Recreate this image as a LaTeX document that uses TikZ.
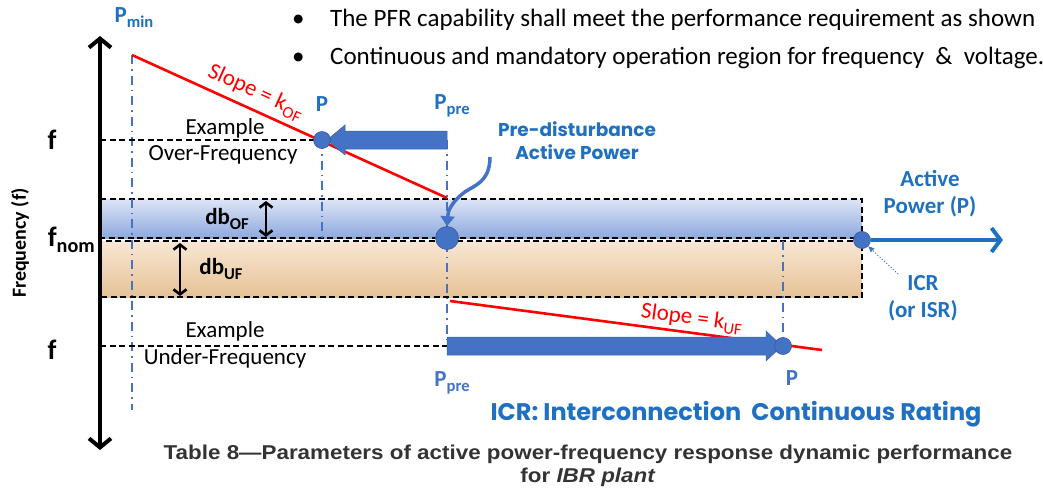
\documentclass[tikz,border=0pt]{standalone}
\usepackage{fontspec}
\setmainfont{Carlito}
\newfontfamily\capfont{Liberation Sans}
\newfontfamily\geofont{Poppins}
\usetikzlibrary{arrows.meta,calc}
\definecolor{lblue}{HTML}{1F70C1}
\definecolor{ablue}{HTML}{4472C4}
\definecolor{bandbt}{HTML}{DDE5F6}
\definecolor{bandbb}{HTML}{8EA9DE}
\definecolor{bandot}{HTML}{F8E7D4}
\definecolor{bandob}{HTML}{E6C296}
\definecolor{slred}{HTML}{FF0000}
\definecolor{capgray}{HTML}{333333}
\newcommand\dn[1]{\raisebox{-0.45ex}{\scalebox{0.72}{#1}}}
\tikzset{
  lbl/.style={font=\fontsize{23}{25}\selectfont\bfseries, text=lblue, inner sep=0pt},
  plain/.style={font=\fontsize{23}{26}\selectfont, text=black, inner sep=0pt},
  dashdot/.style={draw=ablue, line width=2pt, dash pattern=on 9pt off 5pt on 1.5pt off 5pt},
  blackdash/.style={draw=black, line width=2.4pt, dash pattern=on 6pt off 3.5pt},
  dot/.style={circle, fill=ablue, draw=ablue!80!black, line width=0.6pt, inner sep=0pt},
  redline/.style={draw=slred, line width=2.6pt},
  blockarrow/.style={fill=ablue, draw=ablue!85!black, line width=0.5pt},
}
\begin{document}
\begin{tikzpicture}[x=1pt,y=-1pt]
\useasboundingbox (0,0) rectangle (1043,495);
% bands
\shade[top color=bandbt, bottom color=bandbb] (100,199) rectangle (862,238);
\shade[top color=bandot, bottom color=bandob] (100,241) rectangle (862,297);
\draw[blackdash] (100,199) rectangle (862,238);
\draw[blackdash] (100,241) rectangle (862,297);
% axis
\coordinate (axb) at (100,450);
\coordinate (axt) at (100,36);
\draw[line width=4pt, {Straight Barb[length=9pt,width=22pt]}-{Straight Barb[length=9pt,width=22pt]}] (axb) -- (axt);
\node[font=\fontsize{20}{22}\selectfont\bfseries, rotate=90, inner sep=0pt] (freq) at (20,243) {Frequency (f)};
\node[font=\fontsize{28}{30}\selectfont\bfseries, inner sep=0pt] (fof) at (52,140) {f};
\node[font=\fontsize{28}{30}\selectfont\bfseries, inner sep=0pt, anchor=east] (fnom) at (95,240) {f\dn{nom}};
\node[font=\fontsize{28}{30}\selectfont\bfseries, inner sep=0pt] (fuf) at (52,350) {f};
% coordinates
\coordinate (pmintop) at (132,55);
\coordinate (pminbot) at (132,410);
\coordinate (ofend) at (447,198);
\coordinate (pof) at (322,140);
\coordinate (pofbot) at (322,240);
\coordinate (ppretop) at (447,140);
\coordinate (pprebot) at (447,346);
\coordinate (ppre) at (447,238);
\coordinate (ufstart) at (450,301);
\coordinate (ufend) at (822,350);
\coordinate (puf) at (783,346);
\coordinate (puftop) at (783,241);
\coordinate (fofl) at (100,140);
\coordinate (fufl) at (100,346);
% dash-dot verticals
\draw[dashdot] (pmintop) -- (pminbot);
\draw[dashdot] (pof) -- (pofbot);
\draw[dashdot] (ppretop) -- (pprebot);
\draw[dashdot] (puftop) -- (puf);
% black dashed f lines
\draw[blackdash] (fofl) -- (pof);
\draw[blackdash] (fufl) -- (pprebot);
% red slopes
\draw[redline] (pmintop) -- (ofend) node[pos=0.37, sloped, above=5pt, font=\fontsize{23}{25}\selectfont, text=slred, inner sep=0pt] (slof) {Slope = k\dn{OF}};
\draw[redline] (ufstart) -- (ufend) node[pos=0.645, sloped, above=2pt, font=\fontsize{23}{25}\selectfont, text=slred, inner sep=0pt] (sluf) {Slope = k\dn{UF}};
% block arrows
\fill[blockarrow] (447,131) -- (345,131) -- (345,125) -- (327,140) -- (345,155) -- (345,149) -- (447,149) -- cycle;
\fill[blockarrow] (447,337) -- (766,337) -- (766,331) -- (782,346) -- (766,361) -- (766,355) -- (447,355) -- cycle;
% dots
\node[dot, minimum size=17pt] (dof) at (pof) {};
\node[dot, minimum size=23pt] (dpre) at (ppre) {};
\node[dot, minimum size=17pt] (duf) at (puf) {};
\node[dot, minimum size=17pt] (dicr) at (862,240) {};
% active power arrow
\coordinate (apend) at (1003,240);
\draw[draw=lblue, line width=4pt, -{Straight Barb[length=9pt,width=24pt]}] (dicr.east) -- (apend);
% db arrows
\coordinate (dbot) at (266,201);
\coordinate (dbob) at (266,237);
\coordinate (dbut) at (180,243);
\coordinate (dbub) at (180,296);
\draw[line width=2.6pt, {Straight Barb[length=5pt,width=13pt]}-{Straight Barb[length=5pt,width=13pt]}] (dbot) -- (dbob);
\draw[line width=2.6pt, {Straight Barb[length=5pt,width=13pt]}-{Straight Barb[length=5pt,width=13pt]}] (dbut) -- (dbub);
\node[font=\fontsize{23}{25}\selectfont\bfseries, inner sep=0pt] (dbof) at (227,219) {db\dn{OF}};
\node[font=\fontsize{23}{25}\selectfont\bfseries, inner sep=0pt] (dbuf) at (221,269) {db\dn{UF}};
% labels
\node[lbl] (pmin) at (134,18) {P\dn{min}};
\node[lbl] (plof) at (322,104) {P};
\node[lbl] (ppreof) at (452,106) {P\dn{pre}};
\node[lbl, text=ablue] (ppreuf) at (452,383) {P\dn{pre}};
\node[lbl, text=ablue] (pluf) at (792,378) {P};
\node[plain] (ex1) at (225,128) {Example};
\node[plain] (of1) at (223,155) {Over-Frequency};
\node[plain] (ex2) at (225,331) {Example};
\node[plain] (uf1) at (225,358) {Under-Frequency};
\node[font=\fontsize{18.5}{23}\selectfont\geofont\bfseries, text=lblue, align=center, inner sep=0pt] (predist) at (577,141) {Pre-disturbance\\Active Power};
\coordinate (cstart) at (490,157);
\draw[draw=ablue, line width=3.5pt, -{Triangle[length=10pt,width=14pt]}] (cstart) .. controls (490,185) and (470,186) .. (461,195) .. controls (452,203) and (448,210) .. (dpre.north);
\node[font=\fontsize{23}{27}\selectfont\bfseries, text=lblue, align=center, inner sep=0pt] (ap) at (930,194) {Active\\Power (P)};
\node[font=\fontsize{23}{27}\selectfont\bfseries, text=lblue, align=center, inner sep=0pt] (icr) at (923,298) {ICR\\(or ISR)};
\coordinate (icrs) at (898,274);
\draw[draw=ablue, line width=1pt, dotted, -{Triangle[length=6pt,width=5pt]}] (icrs) -- (dicr.south east);
\node[font=\fontsize{24}{26}\selectfont\geofont\bfseries, text=lblue, inner sep=0pt] (icrdef) at (736,414) {ICR: Interconnection~~Continuous Rating};
% bullets
\node[plain, font=\fontsize{25}{28}\selectfont, anchor=west] (b1) at (292,20) {\makebox[38pt][l]{\textbullet}The PFR capability shall meet the performance requirement as shown};
\node[plain, font=\fontsize{25}{28}\selectfont, anchor=west] (b2) at (292,58) {\makebox[38pt][l]{\textbullet}Continuous and mandatory operation region for frequency ~\&~ voltage.};
% caption
\node[font=\fontsize{20}{23}\selectfont\capfont\bfseries, text=capgray, align=center, inner sep=0pt, xscale=1.12] (cap) at (588,466) {Table 8—Parameters of active power-frequency response dynamic performance\\for \textit{IBR plant}};
\end{tikzpicture}
\end{document}
